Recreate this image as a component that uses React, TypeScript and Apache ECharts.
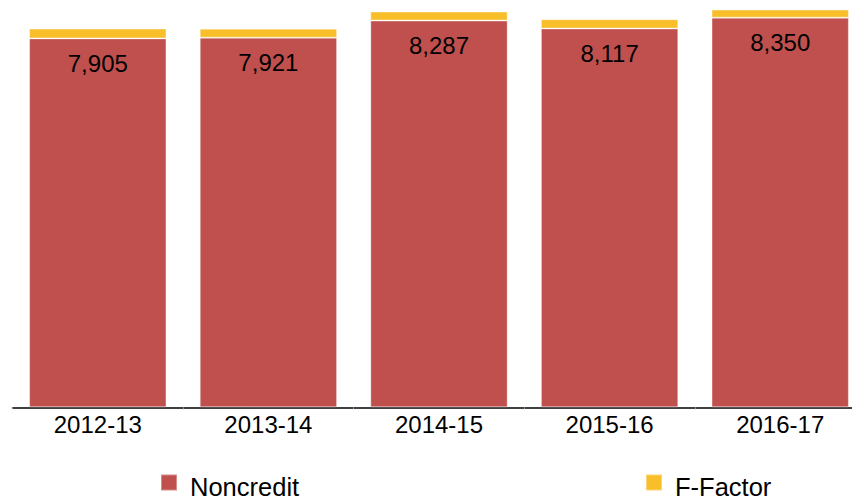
import React, { useEffect, useRef } from "react";
import * as echarts from "echarts";

const categories = ["2012-13", "2013-14", "2014-15", "2015-16", "2016-17"];
const noncredit = [7905, 7921, 8287, 8117, 8350];
const fFactor = [210, 193, 193, 200, 172];

export default function App() {
  const ref = useRef<HTMLDivElement>(null);
  useEffect(() => {
    document.body.style.margin = "0";
    const chart = echarts.init(ref.current!, null, { renderer: "svg" });
    const font = "Liberation Sans, Arial, sans-serif";
    const legendBase = {
      top: 473.5,
      padding: 0,
      itemWidth: 16,
      itemHeight: 24,
      icon: "path://M0 0H16V16H0Z M0 24H0.01V24.01H0Z",
      textStyle: { fontSize: 25.5, lineHeight: 22, color: "#000", fontFamily: font, padding: [0, 0, 0, 8] },
    };
    chart.setOption({
      animation: false,
      grid: { left: 12.5, right: 0.5, top: 1.3, bottom: 93.7, containLabel: false, outerBoundsMode: "none" },
      legend: [
        { ...legendBase, data: ["Noncredit"], left: 160 },
        { ...legendBase, data: ["F-Factor"], left: 645 },
      ],
      xAxis: {
        type: "category",
        data: categories,
        axisLine: { lineStyle: { color: "#000", width: 1.5 } },
        axisTick: { show: true, length: 2, lineStyle: { color: "#999" } },
        axisLabel: { fontSize: 24, color: "#000", fontFamily: font, margin: 5 },
      },
      yAxis: {
        type: "value",
        min: 0,
        max: 8700,
        show: false,
        splitLine: { show: false },
      },
      series: [
        {
          name: "Noncredit",
          type: "bar",
          stack: "total",
          data: noncredit,
          barCategoryGap: "19.5%",
          itemStyle: { color: "#C0504D", borderColor: "rgba(255,255,255,0.35)", borderWidth: 1 },
          label: {
            show: true,
            position: "insideTop",
            distance: 13,
            fontSize: 24,
            color: "#000",
            fontFamily: font,
            formatter: (p: any) => p.value.toLocaleString("en-US"),
          },
        },
        {
          name: "F-Factor",
          type: "bar",
          stack: "total",
          data: fFactor,
          itemStyle: { color: "#F9BF2B", borderColor: "rgba(255,255,255,0.35)", borderWidth: 1 },
        },
      ],
    });
    return () => chart.dispose();
  }, []);
  return (
    <div style={{ width: 852, height: 501, overflow: "hidden", position: "relative" }}>
      <div ref={ref} style={{ width: 866, height: 501 }} />
    </div>
  );
}
